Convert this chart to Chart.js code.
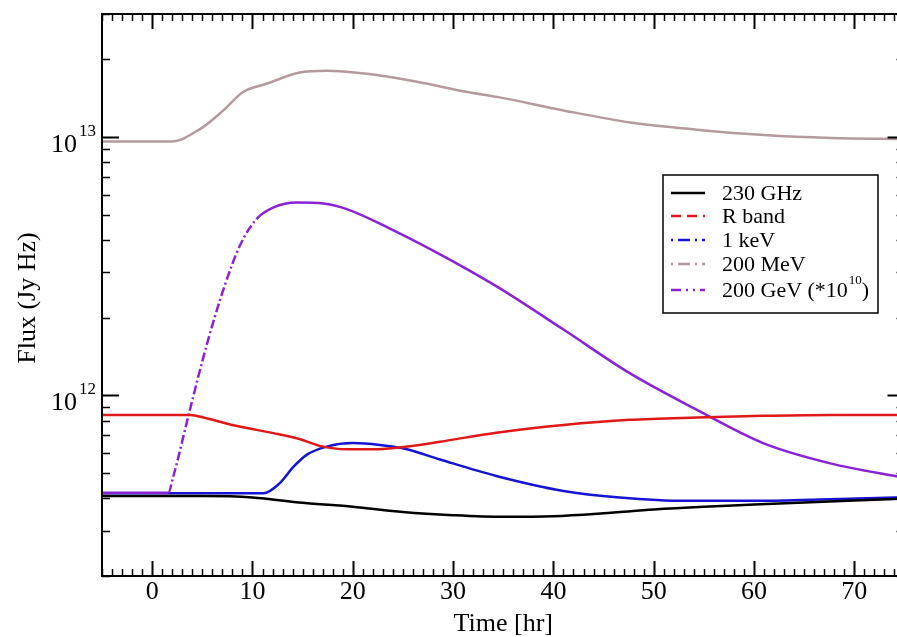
<!DOCTYPE html>
<html>
<head>
<meta charset="utf-8">
<script src="https://cdn.jsdelivr.net/npm/chart.js@4"></script>
<style>
  html, body { margin: 0; padding: 0; background: #fff; overflow: hidden; }
  #wrap { position: relative; width: 906px; height: 637px; }
</style>
</head>
<body>
<div id="wrap"><canvas id="fluxChart"></canvas></div>
<script>
// Time [hr] and flux [Jy Hz], one pair of arrays per band
const tGHz = [-5, 5, 10, 15, 20, 25, 30, 35, 40, 45, 50, 55, 60, 65, 70, 75];
const fGHz = [4.08e11, 4.08e11, 4.03e11, 3.84e11, 3.71e11, 3.54e11, 3.44e11, 3.39e11, 3.41e11, 3.50e11, 3.62e11, 3.71e11, 3.78e11, 3.85e11, 3.92e11, 3.99e11];

const tRband = [-5, 3.8, 5.4, 8.7, 12.1, 14.7, 16.7, 19.4, 22, 25.4, 28.7, 34.3, 41, 47.6, 54.3, 60.9, 67.6, 75];
const fRband = [8.41e11, 8.41e11, 8.16e11, 7.58e11, 7.15e11, 6.78e11, 6.38e11, 6.19e11, 6.19e11, 6.34e11, 6.62e11, 7.18e11, 7.69e11, 8.05e11, 8.22e11, 8.34e11, 8.41e11, 8.41e11];

const tKeV = [-5, 11.1, 12.7, 14.1, 15.4, 17.4, 20, 22.7, 25.4, 28.7, 34.3, 41, 46.6, 53.3, 59.9, 66.6, 75];
const fKeV = [4.18e11, 4.18e11, 4.57e11, 5.30e11, 5.89e11, 6.34e11, 6.54e11, 6.43e11, 6.19e11, 5.65e11, 4.88e11, 4.27e11, 4.03e11, 3.91e11, 3.91e11, 3.96e11, 4.04e11];

const tMeV = [-5, 1.9, 4.8, 7.1, 9.1, 11.4, 14.7, 17.4, 21.4, 26.4, 31.3, 34.5, 41, 47.7, 54.3, 61, 67.6, 75];
const fMeV = [9.62e12, 9.62e12, 1.077e13, 1.27e13, 1.50e13, 1.61e13, 1.78e13, 1.81e13, 1.76e13, 1.64e13, 1.50e13, 1.43e13, 1.27e13, 1.14e13, 1.07e13, 1.02e13, 9.94e12, 9.85e12];

const tGeV = [-5, 1.6, 2.1, 3.76, 5.4, 7.1, 8.74, 10.4, 12.1, 14.4, 17.05, 19.4, 23.7, 28.7, 34.3, 41, 47.6, 54.3, 60.9, 67.6, 75];
const fGeV = [4.20e11, 4.20e11, 4.84e11, 8.79e11, 1.55e12, 2.57e12, 3.80e12, 4.82e12, 5.35e12, 5.59e12, 5.54e12, 5.27e12, 4.43e12, 3.52e12, 2.65e12, 1.80e12, 1.22e12, 8.80e11, 6.54e11, 5.46e11, 4.80e11];

// axis ticks
const xTicks = [];
for (let t = -5; t <= 75; t++) xTicks.push(t);
const xLabels = [0, 10, 20, 30, 40, 50, 60, 70];
const yTicks = [2e11, 3e11, 4e11, 5e11, 6e11, 7e11, 8e11, 9e11,
                1e12, 2e12, 3e12, 4e12, 5e12, 6e12, 7e12, 8e12, 9e12,
                1e13, 2e13, 3e13];
const yLabels = [[1e12, '12'], [1e13, '13']];

const FONT = "'Liberation Serif', 'Times New Roman', serif";

const pts = (ts, fs) => ts.map((t, i) => ({ x: t, y: fs[i] }));

// legend entries: label, colour, dash
const legendItems = [
    { label: '230 GHz', color: '#000000', dash: [] },
    { label: 'R band', color: '#e01818', dash: [10, 6] },
    { label: '1 keV', color: '#1414d2', dash: [2, 5, 12, 5] },
    { label: '200 MeV', color: '#b49a9c', dash: [2, 5, 12, 5] },
    { label: '200 GeV (*10', sup: '10', tail: ')', color: '#8a22d6', dash: [10, 5, 2, 5, 2, 5] }
];

const framePlugin = {
    id: 'xmgraceFrame',
    afterDraw(chart) {
        const { ctx, chartArea: a, scales: { x, y } } = chart;
        ctx.save();

        // frame
        ctx.strokeStyle = '#000';
        ctx.lineWidth = 2;
        ctx.strokeRect(a.left, a.top, a.right - a.left, a.bottom - a.top);

        // inward ticks
        const seg = (x1, y1, x2, y2) => { ctx.beginPath(); ctx.moveTo(x1, y1); ctx.lineTo(x2, y2); ctx.stroke(); };
        xTicks.forEach(v => {
            const px = Math.round(x.getPixelForValue(v)) + 0.5;
            const major = v % 10 === 0;
            const len = major ? 15 : 7;
            ctx.lineWidth = major ? 2 : 1.5;
            seg(px, a.bottom, px, a.bottom - len);
            seg(px, a.top, px, a.top + len);
        });
        yTicks.forEach(v => {
            const py = Math.round(y.getPixelForValue(v)) + 0.5;
            const major = Math.abs(Math.log10(v) % 1) < 1e-9;
            const len = major ? 17 : 8;
            ctx.lineWidth = major ? 2 : 1.5;
            seg(a.left, py, a.left + len, py);
            seg(a.right, py, a.right - len, py);
        });

        // tick labels
        ctx.fillStyle = '#000';
        ctx.font = '26px ' + FONT;
        ctx.textAlign = 'center';
        ctx.textBaseline = 'alphabetic';
        xLabels.forEach(v => ctx.fillText(String(v), x.getPixelForValue(v), a.bottom + 23));

        yLabels.forEach(([v, exp]) => {
            const py = y.getPixelForValue(v);
            ctx.font = '26px ' + FONT;
            ctx.textAlign = 'right';
            ctx.fillText('10', a.left - 25, py + 14.5);
            ctx.font = '17px ' + FONT;
            ctx.textAlign = 'left';
            ctx.fillText(exp, a.left - 23, py - 1.5);
        });

        // axis titles
        ctx.font = '26px ' + FONT;
        ctx.textAlign = 'center';
        ctx.fillText('Time [hr]', (a.left + a.right) / 2, 631);
        ctx.save();
        ctx.translate(35, (a.top + a.bottom) / 2 + 3);
        ctx.rotate(-Math.PI / 2);
        ctx.fillText('Flux (Jy Hz)', 0, 0);
        ctx.restore();

        // legend box
        const bx = 663, by = 175, bw = 215, bh = 138;
        ctx.fillStyle = '#fff';
        ctx.fillRect(bx, by, bw, bh);
        ctx.lineWidth = 1.5;
        ctx.strokeStyle = '#000';
        ctx.strokeRect(bx, by, bw, bh);
        const rows = [193, 216, 240, 264, 290];
        legendItems.forEach((it, i) => {
            const ry = rows[i];
            ctx.strokeStyle = it.color;
            ctx.lineWidth = 2.5;
            ctx.setLineDash(it.dash);
            seg(671, ry, 705, ry);
            ctx.setLineDash([]);
            ctx.fillStyle = '#000';
            ctx.font = '22px ' + FONT;
            ctx.textAlign = 'left';
            ctx.textBaseline = 'middle';
            ctx.fillText(it.label, 722, ry + 1);
            if (it.sup) {
                const w = ctx.measureText(it.label).width;
                ctx.font = '13px ' + FONT;
                ctx.fillText(it.sup, 722 + w + 1, ry - 9);
                const ws = ctx.measureText(it.sup).width;
                ctx.font = '22px ' + FONT;
                ctx.fillText(it.tail, 722 + w + ws + 1, ry + 1);
            }
        });

        ctx.restore();
    }
};

const lineSet = (label, data, color, extra) => Object.assign({
    label,
    data,
    borderColor: color,
    backgroundColor: color,
    borderWidth: 2.5,
    pointRadius: 0,
    fill: false,
    cubicInterpolationMode: 'monotone'
}, extra || {});

const ctx = document.getElementById('fluxChart').getContext('2d');
const chart = new Chart(ctx, {
    type: 'line',
    data: {
        datasets: [
            lineSet('230 GHz', pts(tGHz, fGHz), '#000000'),
            lineSet('R band', pts(tRband, fRband), '#e01818'),
            lineSet('200 MeV', pts(tMeV, fMeV), '#b49a9c'),
            lineSet('200 GeV (*10^10)', pts(tGeV, fGeV), '#8a22d6', {
                segment: {
                    // the steep rise is long enough to show the dash-dot pattern
                    borderDash: c => (c.p0.parsed.x >= 1.5 && c.p1.parsed.x <= 10.5) ? [9, 3, 2, 3] : undefined
                }
            }),
            lineSet('1 keV', pts(tKeV, fKeV), '#1414d2')
        ]
    },
    options: {
        responsive: true,
        maintainAspectRatio: false,
        animation: false,
        layout: { padding: { left: 102, top: 14, right: 1.5, bottom: 61 } },
        plugins: {
            legend: { display: false },
            tooltip: { enabled: false }
        },
        scales: {
            x: { type: 'linear', min: -5, max: 75, display: false },
            y: { type: 'logarithmic', min: 2e11, max: 3e13, display: false }
        }
    },
    plugins: [framePlugin]
});
</script>
</body>
</html>
